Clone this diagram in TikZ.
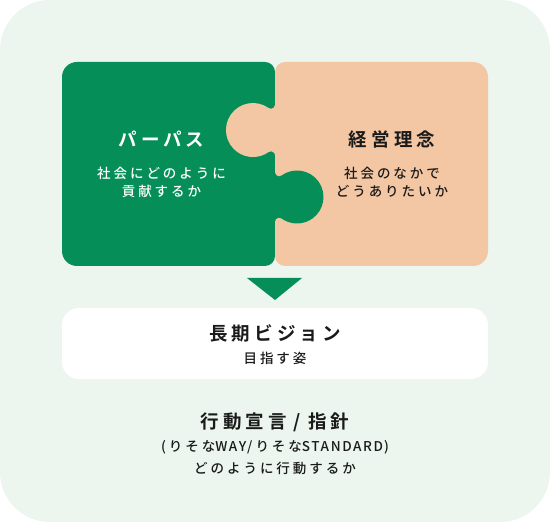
\documentclass[tikz,border=0pt]{standalone}
\usepackage{fontspec}
\newfontfamily\jptitle{Noto Sans CJK JP Bold}[LetterSpace=22]
\newfontfamily\jpsub{Noto Sans CJK JP Medium}[LetterSpace=22]
\newfontfamily\jplat{Noto Sans CJK JP Medium}[LetterSpace=12]
\definecolor{pgreen}{RGB}{6,142,89}
\definecolor{ppeach}{RGB}{243,199,164}
\definecolor{pbg}{RGB}{236,245,238}
\definecolor{ptext}{RGB}{26,26,26}
\tikzset{
  title/.style={inner sep=0pt, anchor=base, font=\jptitle\fontsize{18.5pt}{20pt}\selectfont, text=ptext},
  sub/.style={inner sep=0pt, anchor=base, font=\jpsub\fontsize{13.5pt}{15pt}\selectfont, text=ptext},
}
\begin{document}
\begin{tikzpicture}[x=1pt,y=1pt]
\useasboundingbox (0,0) rectangle (550,522);
\fill[white] (0,0) rectangle (550,522);
\fill[pbg, rounded corners=50pt] (0,0) rectangle (550,522);
% green piece
\fill[pgreen] (77,460) arc[start angle=90,end angle=180,radius=15] -- (62,271)
  arc[start angle=180,end angle=270,radius=15] -- (265,256)
  arc[start angle=270,end angle=360,radius=10] -- (275,450)
  arc[start angle=0,end angle=90,radius=10] -- cycle;
% peach piece
\fill[ppeach] (285,460) arc[start angle=90,end angle=180,radius=10] -- (275,266)
  arc[start angle=180,end angle=270,radius=10] -- (473,256)
  arc[start angle=270,end angle=360,radius=15] -- (488,445)
  arc[start angle=0,end angle=90,radius=15] -- cycle;
% peach knob into green
\fill[ppeach] (280,417.2) -- (275,417.2)
  arc[start angle=0,end angle=-125.5,radius=4]
  arc[start angle=54.46,end angle=305.54,radius=27]
  arc[start angle=125.5,end angle=0,radius=4]
  -- (280,366.8) -- cycle;
% green knob into peach
\fill[pgreen] (270,349.62) -- (275,349.62)
  arc[start angle=180,end angle=306.15,radius=4]
  arc[start angle=126.17,end angle=-126.17,radius=26.5]
  arc[start angle=53.85,end angle=180,radius=4]
  -- (270,300.38) -- cycle;
% arrow
\fill[pgreen] (247,244) -- (302,244) -- (275,222) -- cycle;
% white box
\fill[white, rounded corners=17pt] (62,143) rectangle (488,214);
% texts
\node[title, text=white] (purpose) at (161.5,375.8) {パーパス};
\node[sub, text=white] (p1) at (161.5,343.9) {社会にどのように};
\node[sub, text=white] (p2) at (161.5,325.7) {貢献するか};
\node[title] (rinen) at (392,375.8) {経営理念};
\node[sub] (r1) at (392,343.9) {社会のなかで};
\node[sub] (r2) at (392,325.7) {どうありたいか};
\node[title] (vision) at (275,181.5) {長期ビジョン};
\node[sub] (v1) at (275,158.6) {目指す姿};
\node[title] (action) at (275,93.3) {行動宣言\hspace{7pt}/\hspace{7pt}指針};
\node[sub] (a1) at (275,70.2) {{\jplat(\hspace{3pt}}りそな{\jplat WAY\hspace{1pt}/\hspace{3pt}}りそな{\jplat STANDARD\hspace{1pt})}};
\node[sub] (a2) at (275,48.4) {どのように行動するか};
\end{tikzpicture}
\end{document}
